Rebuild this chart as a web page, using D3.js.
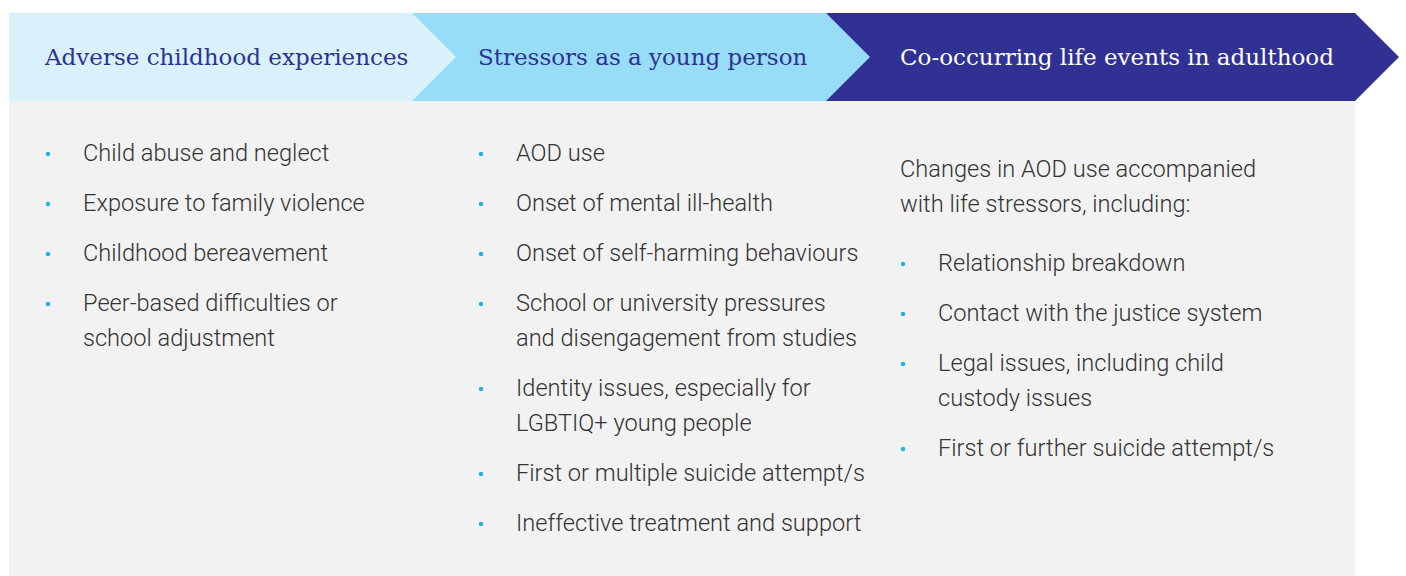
<!DOCTYPE html>
<html>
<head>
<meta charset="utf-8">
<script src="https://cdn.jsdelivr.net/npm/d3@7"></script>
<style>
  html, body { margin: 0; padding: 0; background: #fff; }
  svg { display: block; }
</style>
</head>
<body>
<svg id="chart"></svg>
<script>
let width = 1406, height = 576;

// stages and their content
let stages = ["Adverse childhood experiences", "Stressors as a young person", "Co-occurring life events in adulthood"];
let stageFill = ["#d9f1fb", "#98ddf7", "#303193"];
let stageText = ["#2e3192", "#2e3192", "#ffffff"];

let childhoodItems = [
    ["Child abuse and neglect"],
    ["Exposure to family violence"],
    ["Childhood bereavement"],
    ["Peer-based difficulties or", "school adjustment"]
];
let youngItems = [
    ["AOD use"],
    ["Onset of mental ill-health"],
    ["Onset of self-harming behaviours"],
    ["School or university pressures", "and disengagement from studies"],
    ["Identity issues, especially for", "LGBTIQ+ young people"],
    ["First or multiple suicide attempt/s"],
    ["Ineffective treatment and support"]
];
let adultIntro = ["Changes in AOD use accompanied", "with life stressors, including:"];
let adultItems = [
    ["Relationship breakdown"],
    ["Contact with the justice system"],
    ["Legal issues, including child", "custody issues"],
    ["First or further suicide attempt/s"]
];

let svg = d3.select("#chart")
    .attr("width", width)
    .attr("height", height)
    .attr("viewBox", [0, 0, width, height]);

let TOP = 13, BAND = 88, TIP = 44;
let edges = d3.scaleOrdinal().domain([0, 1, 2, 3]).range([9, 412, 826, 1355]);
let textX = d3.scaleOrdinal().domain([0, 1, 2]).range([45, 478, 900]);

// grey panel
svg.append("rect")
    .attr("x", edges(0)).attr("y", TOP + BAND)
    .attr("width", edges(3) - edges(0)).attr("height", height - TOP - BAND)
    .attr("fill", "#f2f2f2");

// chevrons, drawn last-first so the tips overlap the next stage
let chevron = function(i) {
    let x0 = edges(i), x1 = edges(i + 1), mid = TOP + BAND / 2;
    let pts = [[x0, TOP], [x1, TOP], [x1 + TIP, mid], [x1, TOP + BAND], [x0, TOP + BAND]];
    return d3.line()(pts) + "Z";
};

let heads = svg.append("g").attr("class", "heads");
heads.selectAll("path")
    .data(d3.range(stages.length).reverse())
    .join("path")
    .attr("d", d => chevron(d))
    .attr("fill", d => stageFill[d]);

heads.selectAll("text")
    .data(stages)
    .join("text")
    .attr("x", (d, i) => textX(i))
    .attr("y", TOP + BAND / 2 + 8)
    .attr("fill", (d, i) => stageText[i])
    .style("font-family", "'DejaVu Serif', serif")
    .style("font-size", "23px")
    .text(d => d);

// bullet lists
let LINE = 35, GAP = 15;
let bulletX = [48, 481, 903];
let bodyFont = "23.6px";

function drawList(col, items, startY) {
    let g = svg.append("g").attr("class", "list-" + col);
    let y = startY;
    items.forEach(function(lines) {
        g.append("circle")
            .attr("cx", bulletX[col])
            .attr("cy", y - 7)
            .attr("r", 2.2)
            .attr("fill", "#1fb1ee");
        lines.forEach(function(line, j) {
            g.append("text")
                .attr("x", bulletX[col] + 35)
                .attr("y", y + j * LINE)
                .attr("fill", "#333")
                .style("font-family", "Roboto, sans-serif")
                .style("font-weight", 300)
                .style("font-size", bodyFont)
                .text(line);
        });
        y += lines.length * LINE + GAP;
    });
}

drawList(0, childhoodItems, 161);
drawList(1, youngItems, 161);

svg.append("g").selectAll("text")
    .data(adultIntro)
    .join("text")
    .attr("x", 900)
    .attr("y", (d, i) => 177 + i * LINE)
    .attr("fill", "#333")
    .style("font-family", "Roboto, sans-serif")
    .style("font-weight", 300)
    .style("font-size", bodyFont)
    .text(d => d);

drawList(2, adultItems, 271);
</script>
</body>
</html>
